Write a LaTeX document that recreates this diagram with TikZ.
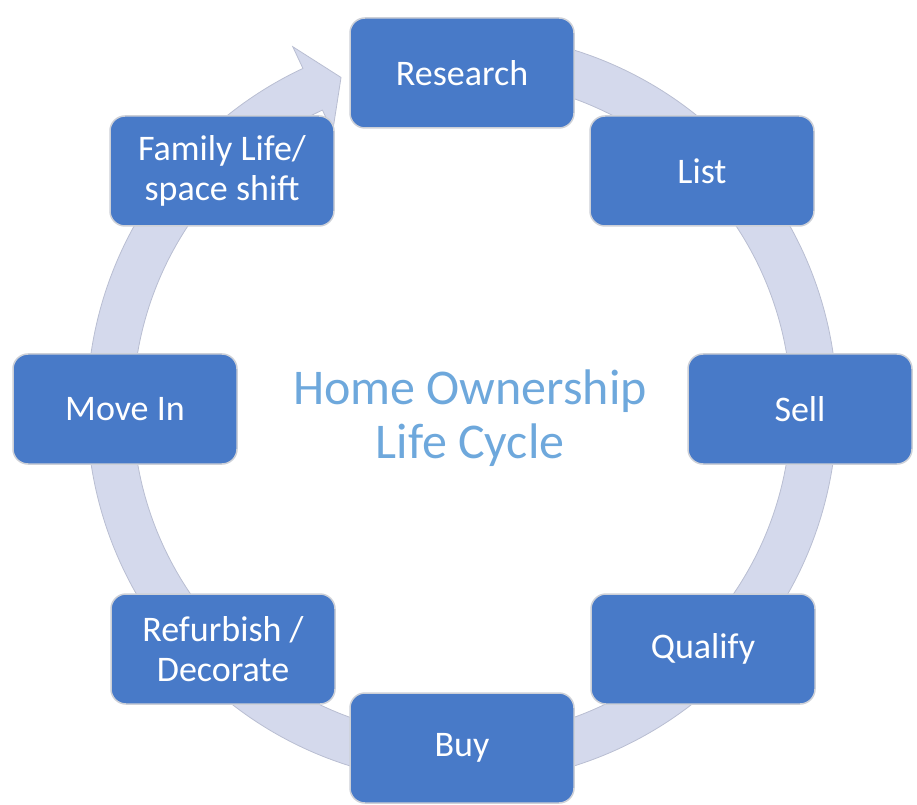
\documentclass[tikz,border=0pt]{standalone}
\usepackage{fontspec}
\setmainfont{Carlito}
\definecolor{boxblue}{RGB}{72,122,200}
\definecolor{boxedge}{RGB}{205,208,215}
\definecolor{ringfill}{RGB}{212,217,236}
\definecolor{ringedge}{RGB}{185,190,210}
\definecolor{titleblue}{RGB}{110,168,220}
\begin{document}
\begin{tikzpicture}[x=1pt,y=1pt,
  stagebox/.style={draw=boxedge, line width=1.5pt, fill=boxblue, rounded corners=15pt,
    minimum width=224pt, minimum height=110pt, text=white,
    font=\fontsize{36}{40}\selectfont, align=center, inner sep=0pt},
  title/.style={text=titleblue, font=\fontsize{50}{54}\selectfont, align=center, inner sep=0pt},
  ring/.style={fill=ringfill, draw=ringedge, line width=0.8pt}]
\useasboundingbox (0,0) rectangle (917,804);
\coordinate (c) at (462,396);
\begin{scope}[shift={(c)}]
  \path[ring] (80:375) arc[start angle=80, end angle=-244.9, radius=375]
    -- (-244.9:399) -- (-249.9:352) -- (-244.9:305) -- (-244.9:329)
    arc[start angle=-244.9, end angle=80, radius=329] -- cycle;
\end{scope}
\node[stagebox] (research) at (462,731) {Research};
\node[stagebox] (list) at (702,633) {List};
\node[stagebox] (sell) at (800,395) {Sell};
\node[stagebox] (qualify) at (703,155) {Qualify};
\node[stagebox] (buy) at (462,56) {Buy};
\node[stagebox] (refurbish) at (223,155) {Refurbish /\\Decorate};
\node[stagebox] (movein) at (125,395) {Move In};
\node[stagebox] (family) at (222,633) {Family Life/\\space shift};
\node[title] (center) at (470,386) {Home Ownership\\Life Cycle};
\end{tikzpicture}
\end{document}
